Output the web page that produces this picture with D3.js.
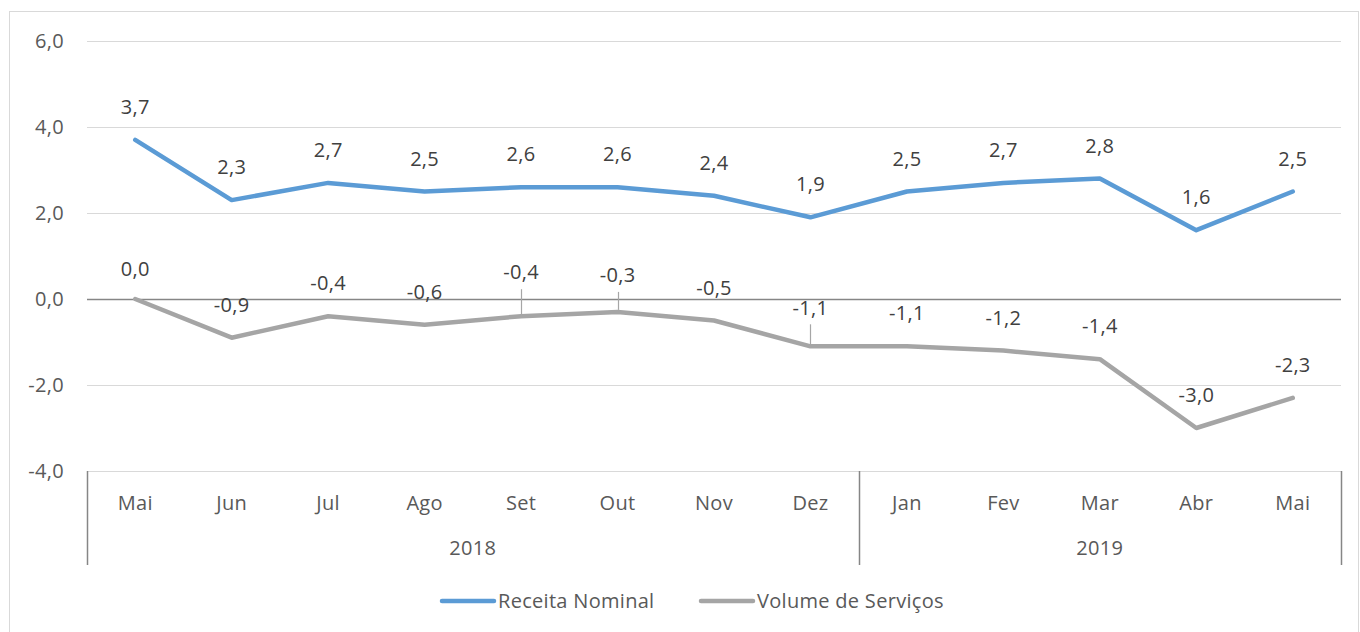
<!DOCTYPE html>
<html>
<head>
<meta charset="utf-8">
<script src="https://cdn.jsdelivr.net/npm/d3@7"></script>
<style>
  body { margin: 0; background: #fff; }
  text { font-family: "Open Sans", Lato, sans-serif; letter-spacing: 0.3px; }
</style>
</head>
<body>
<svg id="chart"></svg>
<script>
const months = ["Mai", "Jun", "Jul", "Ago", "Set", "Out", "Nov", "Dez", "Jan", "Fev", "Mar", "Abr", "Mai"];
const years = ["2018", "2019"];
const yearSpan = [8, 5]; // months per year group
const receita = [3.7, 2.3, 2.7, 2.5, 2.6, 2.6, 2.4, 1.9, 2.5, 2.7, 2.8, 1.6, 2.5];
const volume = [0.0, -0.9, -0.4, -0.6, -0.4, -0.3, -0.5, -1.1, -1.1, -1.2, -1.4, -3.0, -2.3];
const yTicks = [6, 4, 2, 0, -2, -4];
const seriesNames = ["Receita Nominal", "Volume de Serviços"];
const colors = ["#5b9bd5", "#a5a5a5"];

const width = 1360, height = 632;
const margin = {left: 87, right: 19, top: 41, bottom: 161};
const fs = 20;

const svg = d3.select("#chart").attr("width", width).attr("height", height);

// outer border
svg.append("rect")
    .attr("x", 9.5).attr("y", 11.5)
    .attr("width", 1349).attr("height", 640)
    .attr("fill", "none").attr("stroke", "#d9d9d9");

const x = d3.scaleBand()
    .domain(d3.range(months.length))
    .range([margin.left, width - margin.right]);

const y = d3.scaleLinear()
    .domain([-4, 6])
    .range([height - margin.bottom, margin.top]);

// gridlines
svg.append("g")
    .selectAll("line")
    .data(yTicks)
    .join("line")
    .attr("x1", margin.left).attr("x2", width - margin.right)
    .attr("y1", d => Math.round(y(d)) + 0.5).attr("y2", d => Math.round(y(d)) + 0.5)
    .attr("stroke", d => d === 0 ? "#868686" : "#d9d9d9")
    .attr("stroke-width", d => d === 0 ? 1.5 : 1.2);

// y tick labels
const fmt = v => d3.format(".1f")(v).replace(".", ",").replace("−", "-");
svg.append("g")
    .selectAll("text")
    .data(yTicks)
    .join("text")
    .attr("x", 64)
    .attr("y", d => y(d))
    .attr("dy", "0.35em")
    .attr("text-anchor", "end")
    .attr("font-size", fs)
    .attr("fill", "#595959")
    .text(fmt);

// category axis: month labels
const axisY = y(-4);
svg.append("g")
    .selectAll("text")
    .data(months)
    .join("text")
    .attr("x", (d, i) => x(i) + x.bandwidth() / 2)
    .attr("y", 503)
    .attr("dy", "0.35em")
    .attr("text-anchor", "middle")
    .attr("font-size", fs)
    .attr("fill", "#595959")
    .text(d => d);

// year groups
let start = 0;
const groups = years.map((yr, k) => {
  const g = {year: yr, from: start, to: start + yearSpan[k]};
  start += yearSpan[k];
  return g;
});
const sepX = [x(0)].concat(groups.map(g => x(g.to - 1) + x.bandwidth()));
svg.append("g")
    .selectAll("line")
    .data(sepX)
    .join("line")
    .attr("x1", d => Math.round(d) + 0.5).attr("x2", d => Math.round(d) + 0.5)
    .attr("y1", axisY).attr("y2", 565)
    .attr("stroke", "#868686").attr("stroke-width", 1.5);

svg.append("g")
    .selectAll("text")
    .data(groups)
    .join("text")
    .attr("x", g => (x(g.from) + x(g.to - 1) + x.bandwidth()) / 2)
    .attr("y", 548)
    .attr("dy", "0.35em")
    .attr("text-anchor", "middle")
    .attr("font-size", fs)
    .attr("fill", "#595959")
    .text(g => g.year);

// lines
const line = d3.line()
    .x((d, i) => x(i) + x.bandwidth() / 2)
    .y(d => y(d));

[receita, volume].forEach((s, k) => {
  svg.append("path")
      .datum(s)
      .attr("d", line)
      .attr("fill", "none")
      .attr("stroke", colors[k])
      .attr("stroke-width", 4.5)
      .attr("stroke-linejoin", "round")
      .attr("stroke-linecap", "round");
});

// data labels: default sits above point, some moved (Excel manual placement)
const defaultOffset = -33;
const labelShift = [{}, {4: -44, 5: -37, 7: -38, 0: -30}];
const leaders = [{}, {4: [-27, -2], 5: [-20, -2], 7: [-22, -2]}];

[receita, volume].forEach((s, k) => {
  const g = svg.append("g");
  s.forEach((v, i) => {
    const cx = x(i) + x.bandwidth() / 2;
    const cy = y(v);
    const off = labelShift[k][i] !== undefined ? labelShift[k][i] : defaultOffset;
    if (leaders[k][i]) {
      g.append("line")
          .attr("x1", Math.round(cx) + 0.5).attr("x2", Math.round(cx) + 0.5)
          .attr("y1", cy + leaders[k][i][0]).attr("y2", cy + leaders[k][i][1])
          .attr("stroke", "#a6a6a6").attr("stroke-width", 1.2);
    }
    g.append("text")
        .attr("x", cx)
        .attr("y", cy + off)
        .attr("dy", "0.35em")
        .attr("text-anchor", "middle")
        .attr("font-size", fs)
        .attr("fill", "#404040")
        .text(fmt(v));
  });
});

// legend
const legendX = [440, 699];
const legend = svg.append("g");
seriesNames.forEach((name, k) => {
  legend.append("line")
      .attr("x1", legendX[k] + 2).attr("x2", legendX[k] + 54)
      .attr("y1", 601).attr("y2", 601)
      .attr("stroke", colors[k]).attr("stroke-width", 4.5)
      .attr("stroke-linecap", "round");
  legend.append("text")
      .attr("x", legendX[k] + 58)
      .attr("y", 601)
      .attr("dy", "0.35em")
      .attr("font-size", fs)
      .attr("fill", "#595959")
      .text(name);
});
</script>
</body>
</html>
